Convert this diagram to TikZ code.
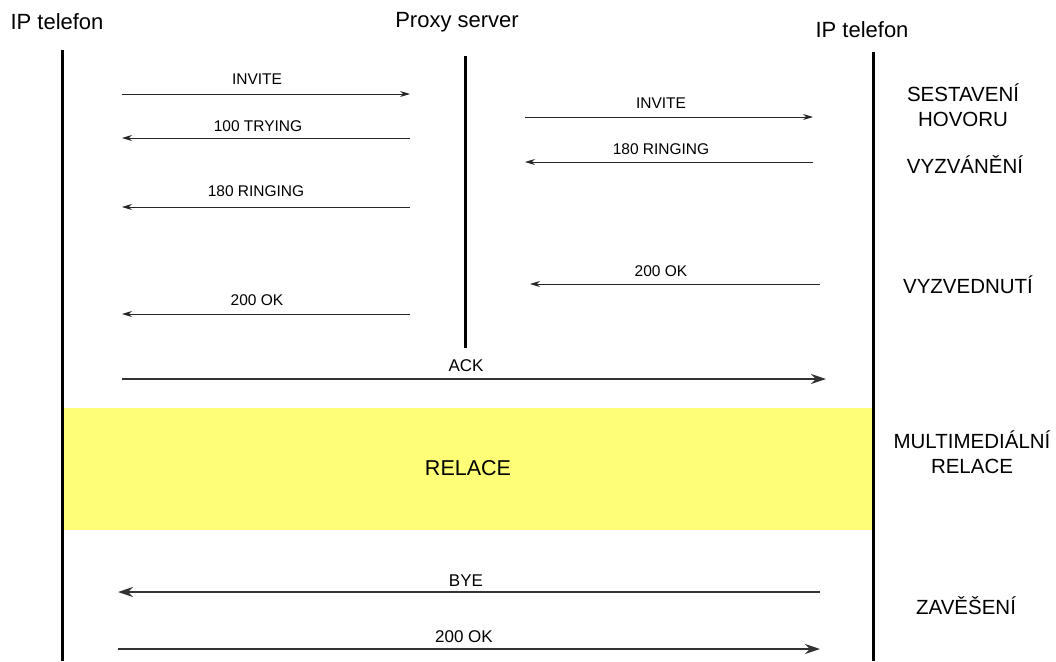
\documentclass[tikz,border=0pt]{standalone}
\usepackage{fontspec}
\setmainfont{Liberation Sans}
\usetikzlibrary{arrows.meta}
\definecolor{relyellow}{RGB}{255,255,119}
\begin{document}
\begin{tikzpicture}[x=1pt,y=-1pt,
  life/.style={line width=3pt},
  msg/.style={line width=0.9pt, draw=black!85, -{Stealth[length=10pt,width=6pt]}},
  bigmsg/.style={line width=1.8pt, draw=black!80, -{Stealth[length=15pt,width=10pt]}},
  lbl/.style={font=\fontsize{15.5}{17}\selectfont, inner sep=0pt},
  biglbl/.style={font=\fontsize{17}{19}\selectfont, inner sep=0pt},
  head/.style={font=\fontsize{22}{24}\selectfont, inner sep=0pt},
  relstyle/.style={font=\fontsize{21.5}{24}\selectfont, inner sep=0pt},
  phase/.style={font=\fontsize{20.5}{25}\selectfont, inner sep=0pt, align=center},
]
\useasboundingbox (0,0) rectangle (1056,661);
% yellow band
\fill[relyellow] (64,408) rectangle (872,530);
\node[relstyle] (relace) at (468,468) {RELACE};
% lifelines
\coordinate (Lt) at (62,50);  \coordinate (Lb) at (62,661);
\coordinate (Pt) at (465,56); \coordinate (Pb) at (465,348);
\coordinate (Rt) at (873,52); \coordinate (Rb) at (873,661);
\draw[life] (Lt) -- (Lb);
\draw[life] (Pt) -- (Pb);
\draw[life] (Rt) -- (Rb);
% headers
\node[head] (hL) at (57,22) {IP telefon};
\node[head] (hP) at (457,22) {Proxy server};
\node[head] (hR) at (862,30) {IP telefon};
% left messages
\coordinate (a1) at (122,94);  \coordinate (b1) at (410,94);
\draw[msg] (a1) -- (b1);
\node[lbl] (t1) at (257,79) {INVITE};
\coordinate (a2) at (410,138); \coordinate (b2) at (122,138);
\draw[msg] (a2) -- (b2);
\node[lbl] (t2) at (258,126) {100 TRYING};
\coordinate (a3) at (410,207); \coordinate (b3) at (122,207);
\draw[msg] (a3) -- (b3);
\node[lbl] (t3) at (256,191) {180 RINGING};
\coordinate (a4) at (410,314); \coordinate (b4) at (122,314);
\draw[msg] (a4) -- (b4);
\node[lbl] (t4) at (257,300) {200 OK};
% right messages
\coordinate (a5) at (525,117); \coordinate (b5) at (813,117);
\draw[msg] (a5) -- (b5);
\node[lbl] (t5) at (661,103) {INVITE};
\coordinate (a6) at (813,162); \coordinate (b6) at (525,162);
\draw[msg] (a6) -- (b6);
\node[lbl] (t6) at (661,149) {180 RINGING};
\coordinate (a7) at (820,284); \coordinate (b7) at (530,284);
\draw[msg] (a7) -- (b7);
\node[lbl] (t7) at (661,271) {200 OK};
% ACK
\coordinate (a8) at (122,379); \coordinate (b8) at (826,379);
\draw[bigmsg] (a8) -- (b8);
\node[biglbl] (t8) at (466,366) {ACK};
% BYE
\coordinate (a9) at (820,592); \coordinate (b9) at (118,592);
\draw[bigmsg] (a9) -- (b9);
\node[biglbl] (t9) at (466,581) {BYE};
\coordinate (a10) at (118,649); \coordinate (b10) at (820,649);
\draw[bigmsg] (a10) -- (b10);
\node[biglbl] (t10) at (464,637) {200 OK};
% phase labels
\node[phase] (p1) at (963,105) {SESTAVENÍ\\HOVORU};
\node[phase] (p2) at (965,165) {VYZVÁNĚNÍ};
\node[phase] (p3) at (968,285) {VYZVEDNUTÍ};
\node[phase] (p4) at (972,452) {MULTIMEDIÁLNÍ\\RELACE};
\node[phase] (p5) at (966,606) {ZAVĚŠENÍ};
\end{tikzpicture}
\end{document}
